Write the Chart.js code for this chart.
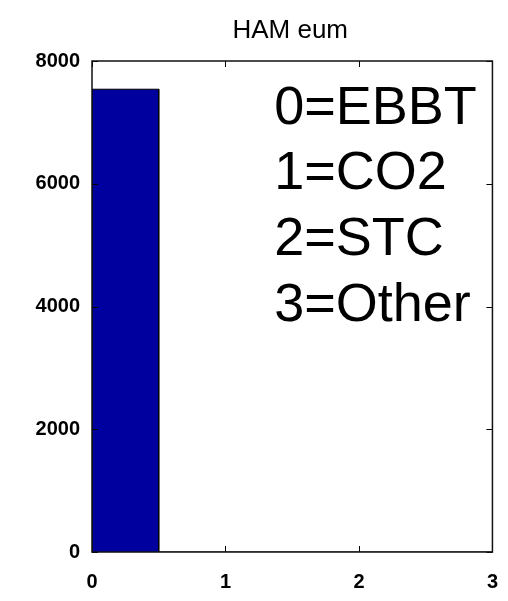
<!DOCTYPE html>
<html>
<head>
<meta charset="utf-8">
<script src="https://cdn.jsdelivr.net/npm/chart.js@4.4.1/dist/chart.umd.min.js"></script>
<style>
html,body{margin:0;padding:0;background:#fff;}
#wrap{width:508px;height:601px;position:relative;}
</style>
</head>
<body>
<div id="wrap"><canvas id="c" width="508" height="601"></canvas></div>
<script>
// ---- data ----
const chartTitle = "HAM eum";
const binEdges = [0, 0.5, 1, 1.5, 2, 2.5, 3];
const binCounts = [7540, 0, 0, 0, 0, 0];
const xTicks = [0, 1, 2, 3];
const yTicks = [0, 2000, 4000, 6000, 8000];
const legendLines = ["0=EBBT", "1=CO2", "2=STC", "3=Other"];

// build histogram outline from bins
const histPoints = [];
for (let i = 0; i < binCounts.length; i++) {
  histPoints.push({x: binEdges[i], y: 0});
  histPoints.push({x: binEdges[i], y: binCounts[i]});
  histPoints.push({x: binEdges[i + 1], y: binCounts[i]});
  histPoints.push({x: binEdges[i + 1], y: 0});
}

const FONT = "'Liberation Sans', Arial, Helvetica, sans-serif";

const boxPlugin = {
  id: 'box',
  afterDatasetsDraw(chart) {
    const {ctx, chartArea: a, scales: {x, y}} = chart;
    ctx.save();
    ctx.strokeStyle = '#000';
    ctx.lineWidth = 1;
    ctx.beginPath();
    const L = 6;
    xTicks.forEach(v => {
      const px = Math.round(x.getPixelForValue(v)) + 0.5;
      ctx.moveTo(px, a.bottom); ctx.lineTo(px, a.bottom - L);
      ctx.moveTo(px, a.top); ctx.lineTo(px, a.top + L);
    });
    yTicks.forEach(v => {
      const py = Math.round(y.getPixelForValue(v)) + 0.5;
      ctx.moveTo(a.left, py); ctx.lineTo(a.left + L, py);
      ctx.moveTo(a.right, py); ctx.lineTo(a.right - L, py);
    });
    ctx.stroke();
    ctx.lineWidth = 1.5;
    ctx.strokeStyle = '#111';
    ctx.strokeRect(a.left, a.top, a.right - a.left, a.bottom - a.top);
    // title centred over the axes
    ctx.fillStyle = '#000';
    ctx.font = '26px ' + FONT;
    ctx.textAlign = 'center';
    ctx.textBaseline = 'middle';
    ctx.fillText(chartTitle, (a.left + a.right) / 2 - 2, a.top - 30);
    // annotation text
    const annX = 1.365;
    const annY = [7220, 6160, 5080, 4000];
    ctx.font = '54px ' + FONT;
    ctx.textAlign = 'left';
    legendLines.forEach((t, i) => {
      ctx.fillText(t, x.getPixelForValue(annX), y.getPixelForValue(annY[i]));
    });
    ctx.restore();
  }
};

new Chart(document.getElementById('c'), {
  type: 'line',
  data: {
    datasets: [{
      data: histPoints,
      borderColor: '#000',
      borderWidth: 1,
      backgroundColor: '#00009E',
      fill: 'origin',
      pointRadius: 0,
      tension: 0
    }]
  },
  options: {
    responsive: false,
    animation: false,
    layout: {padding: {left: 0, right: 11, top: 61, bottom: 0}},
    plugins: {
      legend: {display: false},
      tooltip: {enabled: false},
      title: {display: false}
    },
    scales: {
      x: {
        type: 'linear',
        min: 0, max: 3,
        afterBuildTicks(s) { s.ticks = xTicks.map(v => ({value: v})); },
        afterFit(s) { s.height = 49; },
        grid: {display: false},
        border: {display: false},
        ticks: {
          color: '#000',
          padding: 10,
          maxRotation: 0,
          callback: v => String(v),
          font: {family: FONT, size: 20, weight: 'bold'}
        }
      },
      y: {
        min: 0, max: 8000,
        afterBuildTicks(s) { s.ticks = yTicks.map(v => ({value: v})); },
        afterFit(s) { s.width = 92; },
        grid: {display: false},
        border: {display: false},
        ticks: {
          color: '#000',
          padding: 4,
          callback: v => String(v),
          font: {family: FONT, size: 20, weight: 'bold'}
        }
      }
    }
  },
  plugins: [boxPlugin]
});
</script>
</body>
</html>
